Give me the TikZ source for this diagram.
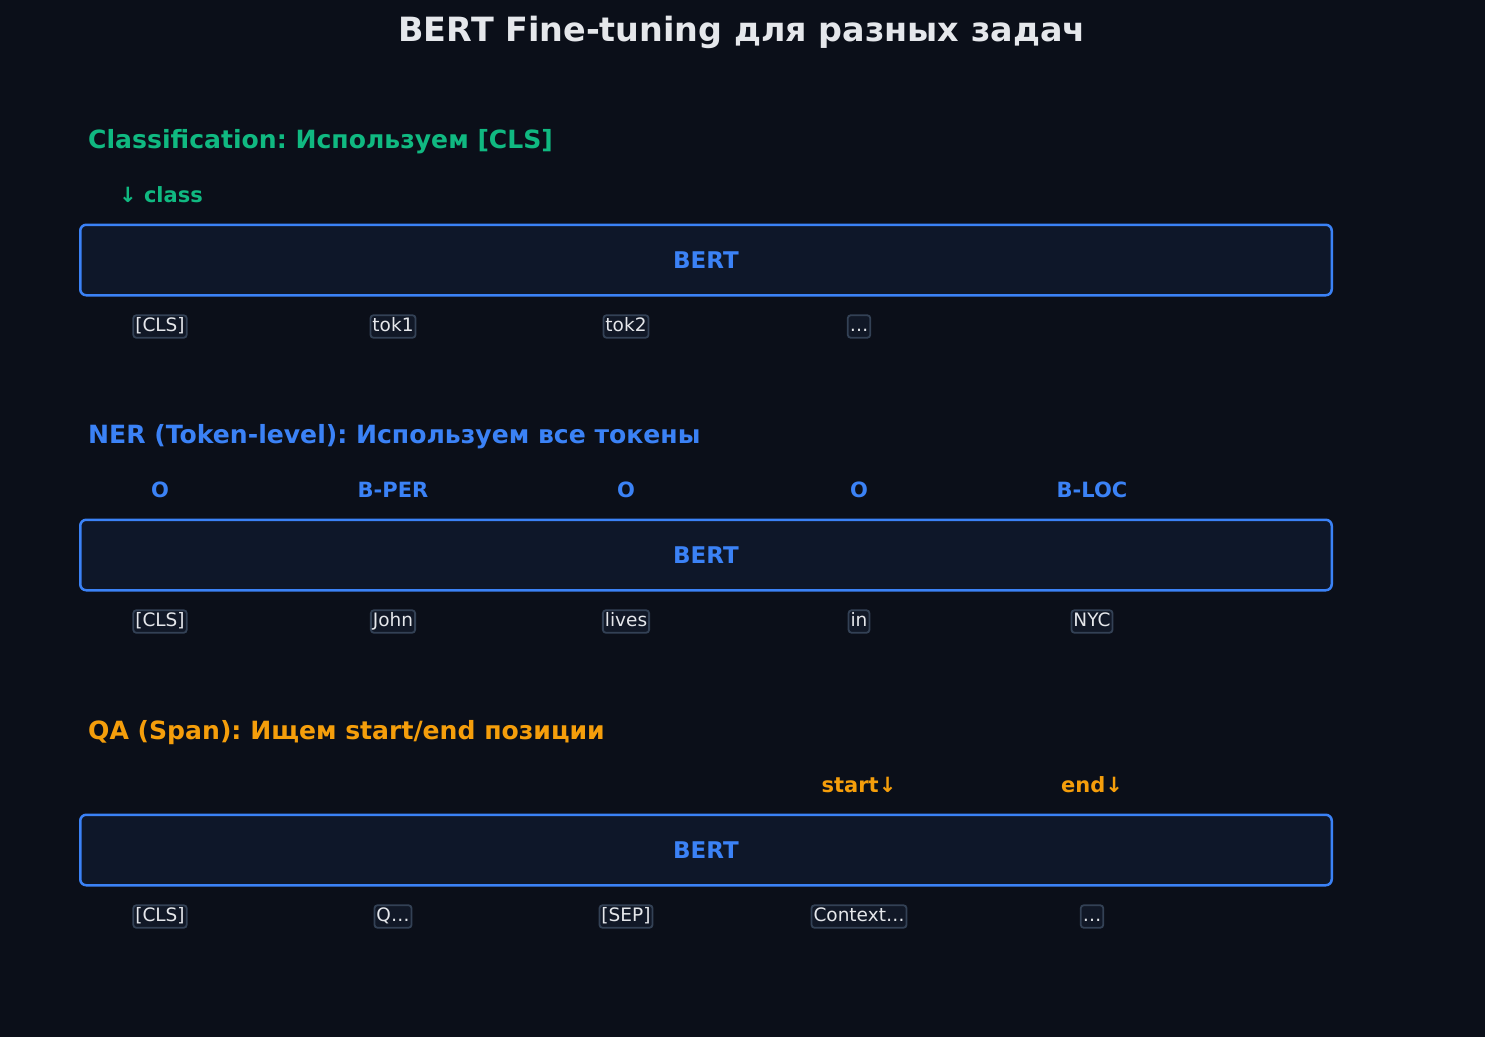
\documentclass[tikz,border=0pt]{standalone}
\usepackage{fontspec}
\setmainfont{DejaVu Sans}
\frenchspacing
\usetikzlibrary{positioning}
\definecolor{bgdark}{HTML}{0B0F19}
\definecolor{bertfill}{HTML}{0E1729}
\definecolor{bertblue}{HTML}{3B82F6}
\definecolor{clsgreen}{HTML}{10B981}
\definecolor{qaorange}{HTML}{F59E0B}
\definecolor{txtlight}{HTML}{E5E7EB}
\definecolor{tokedge}{HTML}{334155}
\definecolor{tokfill}{HTML}{111827}
\tikzset{
  bertbox/.style={draw=bertblue,line width=2.5pt,fill=bertfill,rounded corners=6pt,
    minimum width=1251.5pt,minimum height=70.5pt,text=bertblue,
    font=\fontsize{23}{27}\selectfont\bfseries},
  tokbox/.style={draw=tokedge,line width=1.8pt,fill=tokfill,rounded corners=3pt,
    inner xsep=2pt,inner ysep=2.5pt,text height=13.5pt,text depth=4pt,
    text=txtlight,font=\fontsize{18.5}{22}\selectfont},
  secttl/.style={anchor=west,inner xsep=0pt,font=\fontsize{25.1}{30}\selectfont\bfseries},
  outlbl/.style={font=\fontsize{21}{25}\selectfont\bfseries}
}
\begin{document}
\begin{tikzpicture}[x=1pt,y=-1pt]
  \fill[bgdark](0,0)rectangle(1485,1037);
  \useasboundingbox (0,0) rectangle (1485,1037);
  \node[txtlight,font=\fontsize{33.4}{40}\selectfont\bfseries](title)at(742,32){BERT Fine-tuning для разных задач};
  % classification
  \node[secttl,clsgreen](clsttl)at(88,142){Classification: Используем [CLS]};
  \node[bertbox](clsbert)at(706,260){BERT};
  \foreach \w [count=\i] in {{[CLS]},tok1,tok2,…}
    \node[tokbox](clstok\i)at(160+233*\i-233,326.5){\w};
  \node[outlbl,clsgreen](clsout)at(161,195){↓ class};
  % ner
  \node[secttl,bertblue](nerttl)at(88,437){NER (Token-level): Используем все токены};
  \node[bertbox](nerbert)at(706,555){BERT};
  \foreach \w/\t [count=\i] in {{[CLS]}/O,John/B-PER,lives/O,in/O,NYC/B-LOC}{
    \node[tokbox](nertok\i)at(160+233*\i-233,621.5){\w};
    \node[outlbl,bertblue](nerout\i)at(160+233*\i-233,490){\t};
  }
  % qa
  \node[secttl,qaorange](qattl)at(88,733){QA (Span): Ищем start/end позиции};
  \node[bertbox](qabert)at(706,850){BERT};
  \foreach \w [count=\i] in {{[CLS]},Q…,{[SEP]},Context…,…}
    \node[tokbox](qatok\i)at(160+233*\i-233,916.5){\w};
  \node[outlbl,qaorange](qastart)at(859,785){start↓};
  \node[outlbl,qaorange](qaend)at(1092,785){end↓};
\end{tikzpicture}
\end{document}
